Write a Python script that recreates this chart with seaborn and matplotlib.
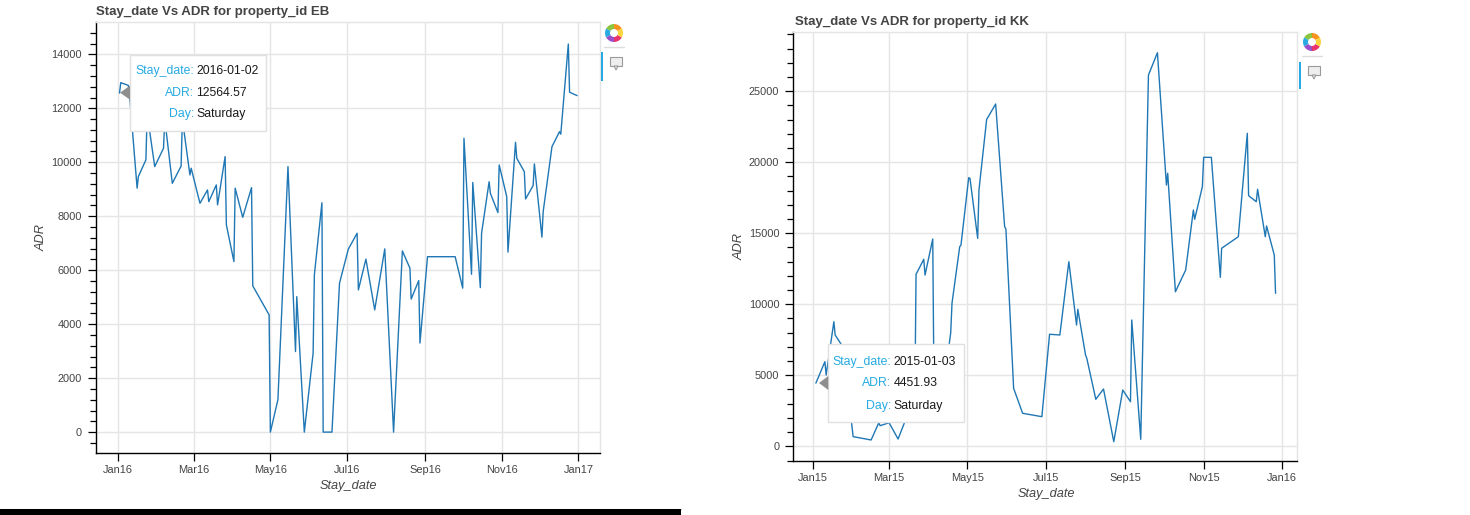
import matplotlib
matplotlib.use("Agg")
import matplotlib.pyplot as plt
import matplotlib.dates as mdates
import matplotlib.ticker as mticker
from matplotlib.patches import Rectangle, Polygon, Wedge, Circle
from matplotlib.transforms import IdentityTransform
from matplotlib.lines import Line2D
import seaborn as sns
import pandas as pd
from datetime import datetime

# ---------------- data ----------------
eb_dates = ["2016-01-02", "2016-01-03", "2016-01-09", "2016-01-10", "2016-01-16", "2016-01-17",
            "2016-01-23", "2016-01-24", "2016-01-30", "2016-02-06", "2016-02-07", "2016-02-13",
            "2016-02-20", "2016-02-21", "2016-02-27", "2016-02-28", "2016-03-06", "2016-03-12",
            "2016-03-13", "2016-03-19", "2016-03-20", "2016-03-26", "2016-03-27", "2016-04-02",
            "2016-04-03", "2016-04-09", "2016-04-16", "2016-04-17", "2016-04-30", "2016-05-01",
            "2016-05-07", "2016-05-15", "2016-05-21", "2016-05-22", "2016-05-28", "2016-06-04",
            "2016-06-05", "2016-06-11", "2016-06-12", "2016-06-19", "2016-06-25", "2016-07-02",
            "2016-07-09", "2016-07-10", "2016-07-16", "2016-07-23", "2016-07-31", "2016-08-07",
            "2016-08-14", "2016-08-20", "2016-08-21", "2016-08-27", "2016-08-28", "2016-09-03",
            "2016-09-25", "2016-10-01", "2016-10-02", "2016-10-08", "2016-10-09", "2016-10-15",
            "2016-10-16", "2016-10-22", "2016-10-23", "2016-10-29", "2016-10-30", "2016-11-05",
            "2016-11-06", "2016-11-12", "2016-11-13", "2016-11-19", "2016-11-20", "2016-11-26",
            "2016-11-27", "2016-12-03", "2016-12-04", "2016-12-11", "2016-12-17", "2016-12-18",
            "2016-12-24", "2016-12-25", "2016-12-31"]
eb_adr = [12564.57, 12950, 12850, 12500, 9040, 9470,
          10090, 11800, 9840, 10520, 11600, 9220,
          9860, 11600, 9530, 9780, 8480, 8975,
          8540, 9160, 8420, 10210, 7680, 6320,
          9040, 7960, 9060, 5420, 4345, 0,
          1200, 9840, 2985, 5020, 0, 2925,
          5825, 8500, 0, 0, 5520, 6780,
          7370, 5270, 6410, 4530, 6790, 0,
          6715, 6075, 4930, 5615, 3300, 6500,
          6500, 5335, 10890, 5850, 9250, 5355,
          7370, 9280, 8850, 8135, 9900, 8730,
          6670, 10740, 10150, 9650, 8640, 9135,
          9940, 7225, 8170, 10580, 11135, 11040,
          14380, 12595, 12470]

kk_dates = ["2015-01-03", "2015-01-10", "2015-01-11", "2015-01-17", "2015-01-18", "2015-01-24",
            "2015-02-01", "2015-02-15", "2015-02-21", "2015-02-22", "2015-03-01", "2015-03-08",
            "2015-03-14", "2015-03-21", "2015-03-22", "2015-03-28", "2015-03-29", "2015-04-04",
            "2015-04-05", "2015-04-11", "2015-04-18", "2015-04-19", "2015-04-25", "2015-04-26",
            "2015-05-02", "2015-05-03", "2015-05-09", "2015-05-10", "2015-05-16", "2015-05-17",
            "2015-05-23", "2015-05-30", "2015-05-31", "2015-06-06", "2015-06-13", "2015-06-28",
            "2015-07-04", "2015-07-12", "2015-07-19", "2015-07-25", "2015-07-26", "2015-08-01",
            "2015-08-02", "2015-08-09", "2015-08-15", "2015-08-23", "2015-08-30", "2015-09-05",
            "2015-09-06", "2015-09-13", "2015-09-19", "2015-09-26", "2015-10-03", "2015-10-04",
            "2015-10-10", "2015-10-18", "2015-10-24", "2015-10-25", "2015-10-31", "2015-11-01",
            "2015-11-07", "2015-11-14", "2015-11-15", "2015-11-28", "2015-12-05", "2015-12-06",
            "2015-12-12", "2015-12-13", "2015-12-19", "2015-12-20", "2015-12-26", "2015-12-27"]
kk_adr = [4451.93, 5960, 5020, 8775, 7840, 7000,
          680, 445, 1660, 1450, 1660, 515,
          1900, 2600, 12110, 13170, 12060, 14600,
          3800, 3200, 8000, 10070, 14055, 14175,
          18915, 18875, 14645, 18050, 23030, 23170,
          24105, 15465, 15300, 4085, 2325, 2085,
          7890, 7840, 13000, 8540, 9650, 6430,
          6195, 3310, 4035, 325, 3965, 3140,
          8895, 495, 26145, 27715, 18400, 19225,
          10885, 12415, 16640, 15985, 18280, 20350,
          20350, 11900, 13945, 14760, 22040, 17650,
          17225, 18100, 14760, 15515, 13470, 10775]

titles = ["Stay_date Vs ADR for property_id EB", "Stay_date Vs ADR for property_id KK"]
x_label = "Stay_date"
y_label = "ADR"
tip_eb = ("2016-01-02", "12564.57", "Saturday")
tip_kk = ("2015-01-03", "4451.93", "Saturday")

# ---------------- style ----------------
sns.set_theme(style="white")
plt.rcParams['font.family'] = ['Liberation Sans', 'DejaVu Sans']

W, H = 1470, 515
fig = plt.figure(figsize=(W / 100, H / 100), dpi=100)
fig.patch.set_facecolor("white")

LINE = "#1f77b4"
GRID = "#e5e5e5"
TXT = "#444444"
TIPBLUE = "#26aae1"


def P(x, y):
    return (x, H - y)


def make_axes(x0, x1, ytop, ybot):
    return fig.add_axes([x0 / W, 1 - ybot / H, (x1 - x0) / W, (ybot - ytop) / H])


def style_axes(ax, ymajor, yminor, xlim, ylim, title_xy, title):
    ax.set_xlim(*xlim)
    ax.set_ylim(*ylim)
    ax.grid(True, color=GRID, linewidth=1.0)
    ax.set_axisbelow(True)
    for s in ["top", "right"]:
        ax.spines[s].set_color(GRID)
        ax.spines[s].set_linewidth(1.0)
    for s in ["left", "bottom"]:
        ax.spines[s].set_color("black")
        ax.spines[s].set_linewidth(1.0)
    ax.xaxis.set_major_locator(mdates.MonthLocator(bymonth=[1, 3, 5, 7, 9, 11]))
    ax.xaxis.set_major_formatter(mdates.DateFormatter("%b%y"))
    ax.yaxis.set_major_locator(mticker.MultipleLocator(ymajor))
    ax.yaxis.set_minor_locator(mticker.MultipleLocator(yminor))
    ax.tick_params(axis="both", which="major", direction="out", length=6, width=0.9,
                   color="black", labelsize=7.9, labelcolor=TXT)
    ax.tick_params(axis="y", which="minor", direction="out", length=4, width=0.9,
                   color="black", left=True)
    ax.tick_params(axis="y", which="major", left=True, pad=4)
    ax.tick_params(axis="x", which="major", bottom=True, pad=3)
    ax.set_xlabel(x_label, fontsize=9.2, fontstyle="italic", color=TXT)
    ax.set_ylabel(y_label, fontsize=9.2, fontstyle="italic", color=TXT)
    ax.xaxis.label.set_verticalalignment("center")
    ax.yaxis.label.set_verticalalignment("center")
    fig.text(title_xy[0] / W, 1 - title_xy[1] / H, title, fontsize=9.5, fontweight="bold",
             color=TXT, ha="left", va="center")


def tooltip(box, lab_x, val_x, rows_y, values, arrow):
    x0, y0, x1, y1 = box
    r = Rectangle(P(x0, y1), x1 - x0, y1 - y0, transform=IdentityTransform(),
                  facecolor="white", edgecolor="#e0e0e0", linewidth=1.0, zorder=5)
    fig.add_artist(r)
    labels = ["Stay_date:", "ADR:", "Day:"]
    for lab, val, yy in zip(labels, values, rows_y):
        fig.text(lab_x / W, 1 - yy / H, lab, fontsize=8.8, color=TIPBLUE, ha="right",
                 va="center", zorder=6)
        fig.text(val_x / W, 1 - yy / H, val, fontsize=8.8, color="#1a1a1a", ha="left",
                 va="center", zorder=6)
    tx, ty, bx = arrow
    tri = Polygon([P(tx, ty), P(bx, ty - 7), P(bx, ty + 7)], closed=True,
                  transform=IdentityTransform(), facecolor="#8e8e8e", edgecolor="none",
                  zorder=7)
    fig.add_artist(tri)


def toolbar(cx, cy, bar_x, bar_y0, bar_y1, hov_y):
    colors = ["#f7931e", "#8cc63f", "#29abe2", "#9b4dca", "#e8336d", "#fbd43b"]
    for i, c in enumerate(colors):
        w = Wedge(P(cx, cy), 9, 60 * i + 30, 60 * i + 90, transform=IdentityTransform(),
                  facecolor=c, edgecolor="none", zorder=5)
        fig.add_artist(w)
    fig.add_artist(Circle(P(cx, cy), 4, transform=IdentityTransform(), facecolor="white",
                          edgecolor="none", zorder=6))
    fig.add_artist(Line2D([cx - 10, cx + 10], [H - (cy + 14), H - (cy + 14)],
                          transform=IdentityTransform(), color="#dddddd", linewidth=1))
    fig.add_artist(Rectangle(P(bar_x, bar_y1), 2.5, bar_y1 - bar_y0,
                             transform=IdentityTransform(), facecolor=TIPBLUE,
                             edgecolor="none", zorder=5))
    hx = cx + 2
    fig.add_artist(Rectangle(P(hx - 6, hov_y + 4), 12, 9, transform=IdentityTransform(),
                             facecolor="#eeeeee", edgecolor="#9a9a9a", linewidth=0.8, zorder=5))
    fig.add_artist(Polygon([P(hx - 2, hov_y + 4), P(hx + 2, hov_y + 4), P(hx, hov_y + 8)],
                           closed=True, transform=IdentityTransform(), facecolor="#eeeeee",
                           edgecolor="#9a9a9a", linewidth=0.8, zorder=5))


# ---------------- left chart (EB) ----------------
ax1 = make_axes(96, 600, 22, 452.5)
eb = pd.DataFrame({"Stay_date": pd.to_datetime(eb_dates), "ADR": eb_adr})
sns.lineplot(data=eb, x="Stay_date", y="ADR", ax=ax1, color=LINE, linewidth=1.0,
             estimator=None, sort=True)
d0 = mdates.date2num(datetime(2016, 1, 1))
style_axes(ax1, 2000, 400, (d0 - 17.7, d0 + 383.2), (-756, 15198), (96, 12.5), titles[0])
ax1.xaxis.set_label_coords((348 - 96) / 504, (452.5 - 486) / 430.5)
ax1.yaxis.set_label_coords((42 - 96) / 504, 0.5)

# ---------------- right chart (KK) ----------------
ax2 = make_axes(793.3, 1297, 32, 460.5)
kk = pd.DataFrame({"Stay_date": pd.to_datetime(kk_dates), "ADR": kk_adr})
sns.lineplot(data=kk, x="Stay_date", y="ADR", ax=ax2, color=LINE, linewidth=1.0,
             estimator=None, sort=True)
d1 = mdates.date2num(datetime(2015, 1, 1))
style_axes(ax2, 5000, 1000, (d1 - 15.6, d1 + 376.7), (-1000, 29176), (795, 21.5), titles[1])
ax2.xaxis.set_label_coords((1046 - 793.3) / 503.7, (460.5 - 494) / 428.5)
ax2.yaxis.set_label_coords((740 - 793.3) / 503.7, 0.5)

# ---------------- tooltips ----------------
tooltip((130, 55, 266, 131), 194, 196, (71, 92.7, 114.5), tip_eb, (120, 92.7, 130))
tooltip((828.3, 344, 964, 421.7), 891.5, 893.5, (361.7, 383.5, 405.7), tip_kk,
        (819, 383, 828.3))

# ---------------- toolbars ----------------
toolbar(614, 33, 600.5, 52, 81, 62)
toolbar(1312, 42, 1298.5, 62, 89, 71)

# ---------------- bottom bar ----------------
fig.add_artist(Rectangle((0, 0), 680.5, 5.7, transform=IdentityTransform(),
                         facecolor="black", edgecolor="none", zorder=5))
fig.add_artist(Line2D([0, 680.5], [6.3, 6.3], transform=IdentityTransform(),
                      color="#bbbbbb", linewidth=0.8))

fig.savefig("out.png", dpi=100)
